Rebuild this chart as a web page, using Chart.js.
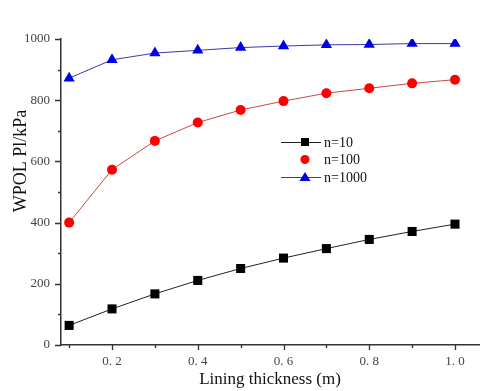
<!DOCTYPE html>
<html>
<head>
<meta charset="utf-8">
<script src="https://cdn.jsdelivr.net/npm/chart.js@4.4.1/dist/chart.umd.min.js"></script>
<style>
  html, body { margin: 0; padding: 0; background: #fff; }
  #wrap { width: 480px; height: 391px; }
</style>
</head>
<body>
<div id="wrap"><canvas id="chart"></canvas></div>
<script>
// Lining thickness (m)
const thickness = [0.1, 0.2, 0.3, 0.4, 0.5, 0.6, 0.7, 0.8, 0.9, 1.0];
// WPOL Pl (kPa) for each n
const n10 = [64, 118, 167, 211, 250, 284, 315, 345, 371, 395];
const n100 = [400, 573, 667, 727, 768, 797, 823, 839, 855, 867];
const n1000 = [872, 932, 954, 963, 972, 977, 981, 982, 985, 985];
const seriesNames = ['n=10', 'n=100', 'n=1000'];

const xTicks = [0.1, 0.2, 0.3, 0.4, 0.5, 0.6, 0.7, 0.8, 0.9, 1.0];
const xLabelTicks = [0.2, 0.4, 0.6, 0.8, 1.0];
const yTicks = [0, 100, 200, 300, 400, 500, 600, 700, 800, 900, 1000];
const yLabelTicks = [0, 200, 400, 600, 800, 1000];
const yTitle = 'WPOL Pl/kPa';

const FONT = "'Liberation Serif', 'DejaVu Serif', serif";
const AXIS = '#333333';

const isMajor = (list, v) => list.some(t => Math.abs(t - v) < 1e-9);
const toPoints = vals => thickness.map((x, i) => ({ x: x, y: vals[i] }));

// minor / major tick marks drawn outward from the axes
const tickMarks = {
    id: 'tickMarks',
    afterDraw(chart) {
        const { ctx, chartArea } = chart;
        const xs = chart.scales.x, ys = chart.scales.y;
        ctx.save();
        ctx.strokeStyle = AXIS;
        ctx.lineWidth = 1.3;
        ctx.beginPath();
        xTicks.forEach(v => {
            const px = Math.round(xs.getPixelForValue(v)) + 0.5;
            const len = isMajor(xLabelTicks, v) ? 5 : 3;
            ctx.moveTo(px, chartArea.bottom);
            ctx.lineTo(px, chartArea.bottom + len);
        });
        yTicks.forEach(v => {
            const py = Math.round(ys.getPixelForValue(v)) + 0.5;
            const len = isMajor(yLabelTicks, v) ? 6 : 3;
            ctx.moveTo(chartArea.left - len, py);
            ctx.lineTo(chartArea.left, py);
        });
        ctx.stroke();

        // y title sits a bit above the middle in the original
        ctx.translate(21, chartArea.top + 122);
        ctx.rotate(-Math.PI / 2);
        ctx.font = '18px ' + FONT;
        ctx.fillStyle = '#111';
        ctx.textAlign = 'center';
        ctx.textBaseline = 'middle';
        ctx.fillText(yTitle, 0, 0);
        ctx.restore();
    }
};

// legend sitting inside the plot, like the original figure
const innerLegend = {
    id: 'innerLegend',
    afterDraw(chart) {
        const { ctx, chartArea } = chart;
        const x0 = chartArea.left + 220;
        const y0 = chartArea.top + 103;
        const rowH = 17.5;
        ctx.save();
        ctx.font = '14px ' + FONT;
        ctx.textBaseline = 'middle';
        chart.data.datasets.forEach((ds, i) => {
            const y = y0 + i * rowH;
            const cx = x0 + 24;
            if (ds.legendLine) {
                ctx.strokeStyle = ds.borderColor;
                ctx.lineWidth = 1;
                ctx.beginPath();
                ctx.moveTo(x0, y + 0.5);
                ctx.lineTo(x0 + 40, y + 0.5);
                ctx.stroke();
            }
            ctx.fillStyle = ds.pointBackgroundColor;
            ctx.beginPath();
            if (ds.pointStyle === 'rect') {
                ctx.rect(cx - 4, y - 4, 8, 8);
            } else if (ds.pointStyle === 'circle') {
                ctx.arc(cx, y, 4.5, 0, Math.PI * 2);
            } else {
                ctx.moveTo(cx, y - 5);
                ctx.lineTo(cx + 5.5, y + 4);
                ctx.lineTo(cx - 5.5, y + 4);
                ctx.closePath();
            }
            ctx.fill();
            ctx.fillStyle = '#111';
            ctx.fillText(ds.label, x0 + 43, y + 1);
        });
        ctx.restore();
    }
};

const ctx = document.getElementById('chart').getContext('2d');
new Chart(ctx, {
    type: 'line',
    data: {
        datasets: [
            {
                label: seriesNames[0],
                data: toPoints(n10),
                borderColor: '#222222',
                borderWidth: 1,
                pointStyle: 'rect',
                pointRadius: 6.4,
                pointBackgroundColor: '#000000',
                pointBorderWidth: 0,
                legendLine: true
            },
            {
                label: seriesNames[1],
                data: toPoints(n100),
                borderColor: '#c84848',
                borderWidth: 1,
                pointStyle: 'circle',
                pointRadius: 5,
                pointBackgroundColor: '#ff0000',
                pointBorderWidth: 0,
                legendLine: false
            },
            {
                label: seriesNames[2],
                data: toPoints(n1000),
                borderColor: '#3a3aa8',
                borderWidth: 1,
                pointStyle: 'triangle',
                pointRadius: 6.5,
                pointBackgroundColor: '#0000e6',
                pointBorderWidth: 0,
                legendLine: true
            }
        ]
    },
    options: {
        responsive: true,
        maintainAspectRatio: false,
        animation: false,
        layout: { autoPadding: false, padding: { left: 0, top: 39, right: 1, bottom: 0 } },
        plugins: {
            legend: { display: false },
            tooltip: { enabled: false }
        },
        scales: {
            x: {
                type: 'linear',
                min: 0.081,
                max: 1.056,
                afterBuildTicks: s => { s.ticks = xTicks.map(v => ({ value: v })); },
                afterFit: s => { s.height = 46; s.paddingLeft = 0; s.paddingRight = 0; },
                grid: { display: false },
                border: { color: AXIS, width: 1.5 },
                ticks: {
                    autoSkip: false,
                    maxRotation: 0,
                    padding: 1,
                    color: '#444',
                    font: { family: FONT, size: 13 },
                    callback: v => isMajor(xLabelTicks, v) ? v.toFixed(1).replace('.', '. ') : ''
                },
                title: {
                    display: true,
                    text: 'Lining thickness (m)',
                    color: '#111',
                    font: { family: FONT, size: 17 },
                    padding: { top: 0, bottom: 1 }
                }
            },
            y: {
                type: 'linear',
                min: 0,
                max: 1000,
                afterBuildTicks: s => { s.ticks = yTicks.map(v => ({ value: v })); },
                afterFit: s => { s.width = 61; },
                grid: { display: false },
                border: { color: AXIS, width: 1.5 },
                ticks: {
                    autoSkip: false,
                    padding: 3,
                    color: '#444',
                    font: { family: FONT, size: 13 },
                    callback: v => isMajor(yLabelTicks, v) ? String(v) : ''
                },
                title: { display: false }
            }
        }
    },
    plugins: [tickMarks, innerLegend]
});
</script>
</body>
</html>
